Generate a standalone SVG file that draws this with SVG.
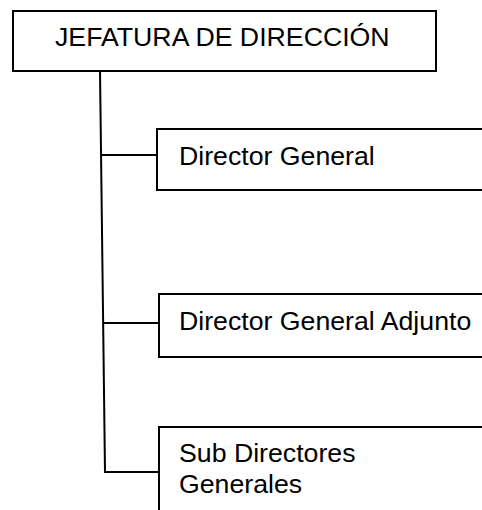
<svg xmlns="http://www.w3.org/2000/svg" width="482" height="510" viewBox="0 0 482 510">
<style>
.box{fill:#fff;stroke:#000;stroke-width:2}
.ln{stroke:#000;stroke-width:2;fill:none}
.t{font-family:"Liberation Sans",Arial,sans-serif;font-size:26.7px;fill:#000}
</style>
<rect x="0" y="0" width="482" height="510" fill="#fff"/>
<g id="connectors">
<path class="ln" d="M100 71 L105 472"/>
<path class="ln" d="M101 155 L158 155"/>
<path class="ln" d="M104 323 L159 323"/>
<path class="ln" d="M104 472 L159 472"/>
</g>
<g id="jefatura">
<rect class="box" x="13" y="11" width="423" height="60"/>
<text class="t" x="55" y="46">JEFATURA DE DIRECCIÓN</text>
</g>
<g id="director-general">
<rect class="box" x="157" y="129" width="340" height="61"/>
<text class="t" x="179" y="165">Director General</text>
</g>
<g id="director-general-adjunto">
<rect class="box" x="159" y="294" width="340" height="63"/>
<text class="t" x="179" y="330">Director General Adjunto</text>
</g>
<g id="sub-directores">
<rect class="box" x="159" y="427" width="340" height="100"/>
<text class="t" x="179" y="462">Sub Directores</text>
<text class="t" x="179" y="493">Generales</text>
</g>
</svg>
